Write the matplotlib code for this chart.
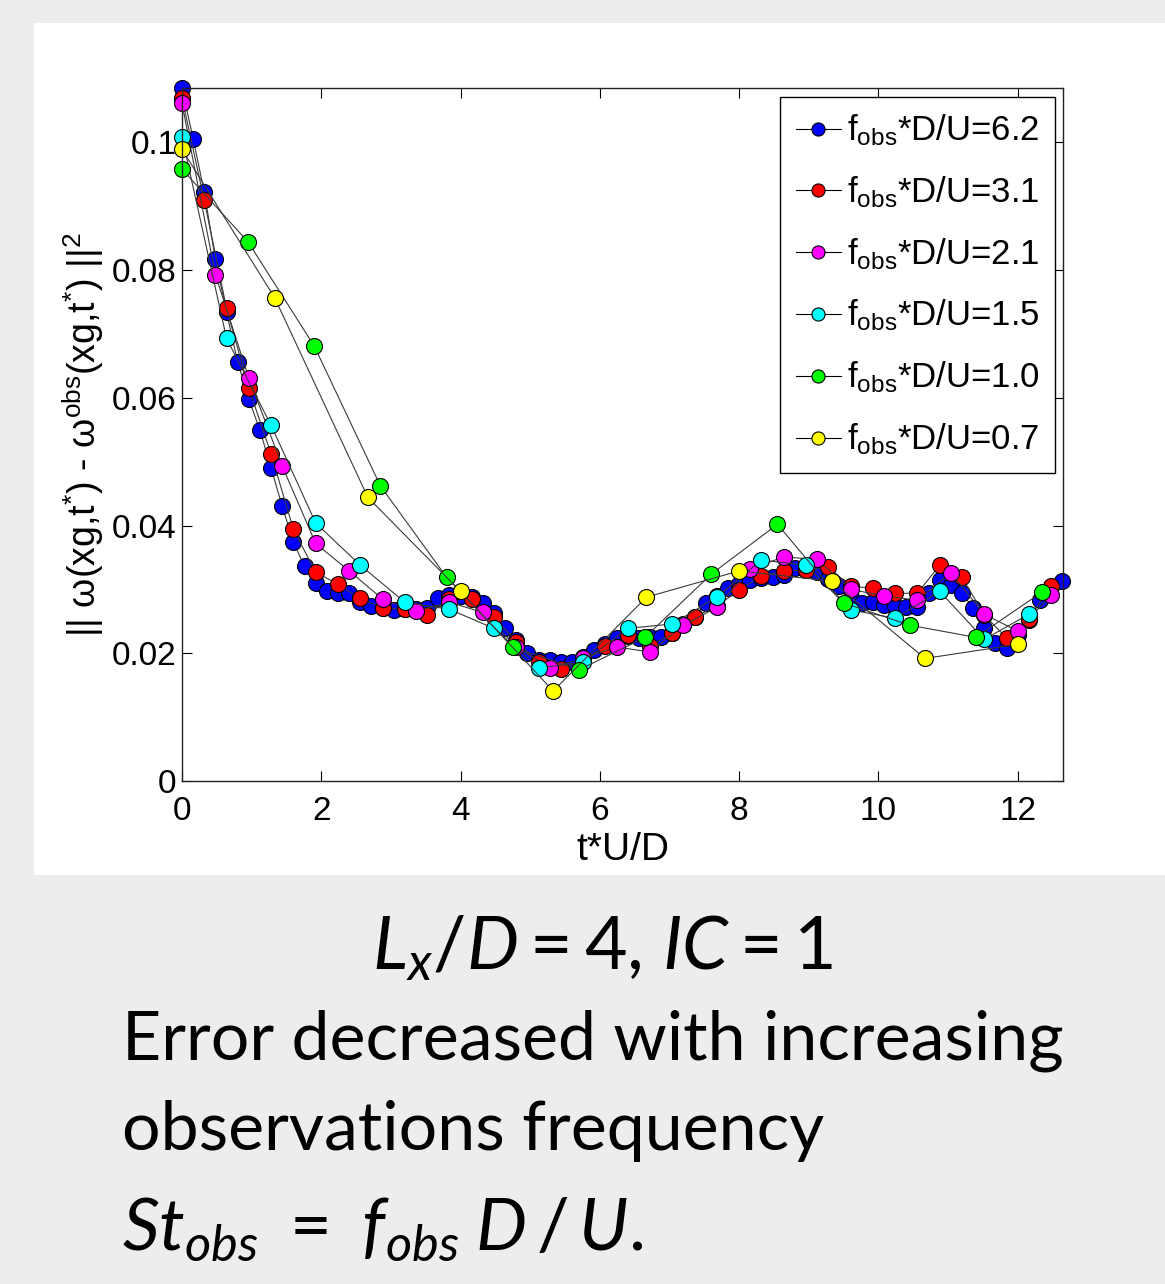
import matplotlib
matplotlib.use("Agg")
import matplotlib.pyplot as plt
from matplotlib.patches import Rectangle

# observation frequencies (legend order)
freqs = ["6.2", "3.1", "2.1", "1.5", "1.0", "0.7"]
colors = ["#0000FF", "#FF0000", "#FF00FF", "#00FFFF", "#00FF00", "#FFFF00"]

t_62 = [0.00, 0.16, 0.32, 0.48, 0.64, 0.80, 0.96, 1.12, 1.28, 1.44, 1.60, 1.76, 1.92, 2.08,
        2.24, 2.40, 2.56, 2.72, 2.88, 3.04, 3.20, 3.36, 3.52, 3.68, 3.84, 4.00, 4.16, 4.32,
        4.48, 4.64, 4.80, 4.96, 5.12, 5.28, 5.44, 5.60, 5.76, 5.92, 6.08, 6.24, 6.40, 6.56,
        6.72, 6.88, 7.04, 7.20, 7.36, 7.52, 7.68, 7.84, 8.00, 8.16, 8.32, 8.48, 8.64, 8.80,
        8.96, 9.12, 9.28, 9.44, 9.60, 9.76, 9.92, 10.08, 10.24, 10.40, 10.56, 10.72, 10.88,
        11.04, 11.20, 11.36, 11.52, 11.68, 11.84, 12.00, 12.16, 12.32, 12.48, 12.64]
err_62 = [0.1085, 0.1006, 0.0922, 0.0817, 0.0734, 0.0656, 0.0598, 0.0549, 0.0490, 0.0430,
          0.0374, 0.0336, 0.0310, 0.0297, 0.0294, 0.0294, 0.0280, 0.0274, 0.0271, 0.0268,
          0.0269, 0.0269, 0.0271, 0.0286, 0.0291, 0.0290, 0.0288, 0.0279, 0.0263, 0.0239,
          0.0221, 0.0200, 0.0189, 0.0189, 0.0186, 0.0186, 0.0194, 0.0205, 0.0214, 0.0224,
          0.0227, 0.0224, 0.0225, 0.0225, 0.0232, 0.0246, 0.0257, 0.0279, 0.0290, 0.0302,
          0.0308, 0.0315, 0.0318, 0.0319, 0.0322, 0.0333, 0.0330, 0.0327, 0.0316, 0.0305,
          0.0288, 0.0279, 0.0280, 0.0275, 0.0274, 0.0272, 0.0272, 0.0294, 0.0315, 0.0307,
          0.0294, 0.0271, 0.0239, 0.0216, 0.0208, 0.0228, 0.0252, 0.0283, 0.0304, 0.0313]

t_31 = [0.00, 0.32, 0.64, 0.96, 1.28, 1.60, 1.92, 2.24, 2.56, 2.88, 3.20, 3.52, 3.84, 4.16,
        4.48, 4.80, 5.12, 5.44, 5.76, 6.08, 6.40, 6.72, 7.04, 7.36, 7.68, 8.00, 8.32, 8.64,
        8.96, 9.28, 9.60, 9.92, 10.24, 10.56, 10.88, 11.20, 11.52, 11.84, 12.16, 12.48]
err_31 = [0.1070, 0.0909, 0.0740, 0.0615, 0.0512, 0.0394, 0.0327, 0.0308, 0.0286, 0.0271,
          0.0269, 0.0260, 0.0285, 0.0285, 0.0257, 0.0218, 0.0186, 0.0175, 0.0189, 0.0211,
          0.0228, 0.0211, 0.0232, 0.0257, 0.0274, 0.0299, 0.0321, 0.0329, 0.0330, 0.0335,
          0.0305, 0.0302, 0.0294, 0.0294, 0.0338, 0.0319, 0.0260, 0.0224, 0.0254, 0.0305]

t_21 = [0.00, 0.48, 0.96, 1.44, 1.92, 2.40, 2.88, 3.36, 3.84, 4.32, 4.80, 5.28, 5.76, 6.24,
        6.72, 7.20, 7.68, 8.16, 8.64, 9.12, 9.60, 10.08, 10.56, 11.04, 11.52, 12.00, 12.48]
err_21 = [0.1061, 0.0793, 0.0631, 0.0493, 0.0372, 0.0329, 0.0285, 0.0266, 0.0280, 0.0264,
          0.0210, 0.0177, 0.0192, 0.0210, 0.0202, 0.0244, 0.0272, 0.0332, 0.0351, 0.0347,
          0.0300, 0.0290, 0.0283, 0.0326, 0.0261, 0.0235, 0.0291]

t_15 = [0.00, 0.64, 1.28, 1.92, 2.56, 3.20, 3.84, 4.48, 5.12, 5.76, 6.40, 7.04, 7.68, 8.32,
        8.96, 9.60, 10.24, 10.88, 11.52, 12.16]
err_15 = [0.1009, 0.0693, 0.0557, 0.0404, 0.0338, 0.0280, 0.0269, 0.0239, 0.0177, 0.0186,
          0.0239, 0.0246, 0.0288, 0.0346, 0.0338, 0.0268, 0.0255, 0.0297, 0.0222, 0.0261]

t_10 = [0.00, 0.95, 1.90, 2.85, 3.80, 4.75, 5.70, 6.65, 7.60, 8.55, 9.50, 10.45, 11.40, 12.35]
err_10 = [0.0958, 0.0844, 0.0681, 0.0462, 0.0319, 0.0210, 0.0174, 0.0225, 0.0324, 0.0402,
          0.0279, 0.0244, 0.0225, 0.0296]

t_07 = [0.00, 1.33, 2.67, 4.00, 5.33, 6.67, 8.00, 9.33, 10.67, 12.00]
err_07 = [0.0989, 0.0757, 0.0444, 0.0297, 0.0141, 0.0288, 0.0329, 0.0313, 0.0192, 0.0214]

times = [t_62, t_31, t_21, t_15, t_10, t_07]
errors = [err_62, err_31, err_21, err_15, err_10, err_07]

xticks = [0, 2, 4, 6, 8, 10, 12]
yticks = [0, 0.02, 0.04, 0.06, 0.08, 0.1]
ytick_labels = ["0", "0.02", "0.04", "0.06", "0.08", "0.1"]

plt.rcParams["font.family"] = ["Liberation Sans", "DejaVu Sans"]
plt.rcParams["mathtext.fontset"] = "custom"
plt.rcParams["mathtext.rm"] = "Lato"
plt.rcParams["mathtext.it"] = "Lato:italic"
plt.rcParams["mathtext.bf"] = "Lato:bold"

fig = plt.figure(figsize=(11.65, 12.84), dpi=100, facecolor="#EDEDF0")
fig.patches.append(Rectangle((0.0292, 0.3185), 0.9708, 0.6636, transform=fig.transFigure,
                             facecolor="white", edgecolor="none", zorder=-10))

ax = fig.add_axes([0.1562, 0.3917, 0.7562, 0.5397])
ax.set_facecolor("white")
for f, c, t, e in zip(freqs, colors, times, errors):
    ax.plot(t, e, "-o", color="#3a3a3a", lw=0.8, mfc=c, mec="black", mew=0.8, ms=11.5,
            label=r"f$_\mathregular{obs}$*D/U=" + f, clip_on=False)

ax.set_xlim(0, 12.65)
ax.set_ylim(0, 0.1085)
ax.set_xticks(xticks)
ax.set_yticks(yticks)
ax.set_yticklabels(ytick_labels)
ax.tick_params(direction="in", top=True, right=True, length=7, width=0.8,
               labelsize=24, colors="black")
ax.tick_params(axis="x", pad=11)
ax.tick_params(axis="y", pad=4)
for sp in ax.spines.values():
    sp.set_linewidth(1.0)
    sp.set_color("#222222")

ax.set_xlabel("t*U/D", fontsize=28, labelpad=3)
ax.set_ylabel(r"|| ω(xg,t$^\mathregular{*}$) - ω$^\mathregular{obs}$(xg,t$^\mathregular{*}$) ||$^\mathregular{2}$",
              fontsize=27, labelpad=4)

leg = ax.legend(loc="upper right", bbox_to_anchor=(0.991, 0.987), fontsize=25, frameon=True,
                fancybox=False, edgecolor="black", framealpha=1, borderaxespad=0,
                handlelength=1.3, handletextpad=0.17, labelspacing=0.76, borderpad=0.45,
                markerscale=0.82)
leg.get_frame().set_linewidth(1.0)
for line in leg.get_lines():
    line.set_color("black")

fig.text(603 / 1165, 1 - 970 / 1284, r"$L_x/D = 4$, $IC = 1$", ha="center", va="baseline",
         fontsize=53, family="Lato")
fig.text(122 / 1165, 1 - 1060 / 1284, "Error decreased with increasing", ha="left",
         va="baseline", fontsize=49, family="Lato")
fig.text(122 / 1165, 1 - 1150 / 1284, "observations frequency", ha="left",
         va="baseline", fontsize=49, family="Lato")
fig.text(122 / 1165, 1 - 1250 / 1284, r"$St_{obs}\ =\ f_{obs}\;D\,/\,U$.", ha="left",
         va="baseline", fontsize=52, family="Lato")

fig.savefig("out.png", dpi=100, facecolor=fig.get_facecolor())
